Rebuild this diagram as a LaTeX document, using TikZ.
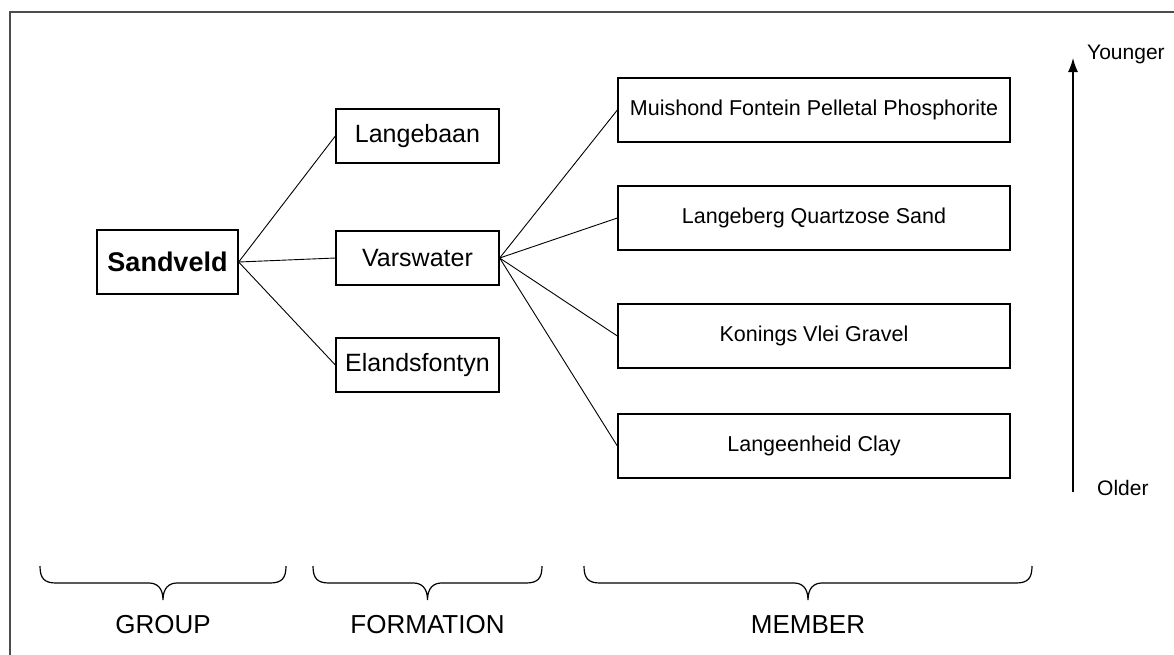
\documentclass[tikz,border=0pt]{standalone}
\usepackage{fontspec}
\setmainfont{Liberation Sans}
\usetikzlibrary{arrows.meta}

\begin{document}
\begin{tikzpicture}[x=1pt, y=-1pt, >={Latex[length=14pt,width=10pt]},
  groupbox/.style={draw, line width=1.3pt, minimum width=141pt, minimum height=64pt, inner sep=0pt, font=\fontsize{27}{32}\selectfont\bfseries},
  formbox/.style={draw, line width=1.3pt, minimum width=163pt, minimum height=54pt, inner sep=0pt, font=\fontsize{25}{30}\selectfont},
  memberbox/.style={draw, line width=1.3pt, minimum width=392pt, minimum height=64pt, inner sep=0pt, font=\fontsize{21.5}{26}\selectfont},
  link/.style={line width=0.9pt},
  rank/.style={font=\fontsize{26}{30}\selectfont},
  age/.style={anchor=west, inner sep=0pt, font=\fontsize{21}{25}\selectfont},
  rankbrace/.style={line width=1.2pt}]
  \useasboundingbox (0,0) rectangle (1174,654);
  %%% Frame
  \draw[black!70, line width=2pt] (10,12) rectangle (1200,680);
  %%% Boxes
  \node[groupbox] (sandveld) at (167.5,262) {Sandveld};
  \node[formbox] (langebaan) at (417.5,136) {Langebaan};
  \node[formbox] (varswater) at (417.5,258) {Varswater};
  \node[formbox] (elandsfontyn) at (417.5,365) {Elandsfontyn};
  \node[memberbox] (muishond) at (814,110) {Muishond Fontein Pelletal Phosphorite};
  \node[memberbox] (langeberg) at (814,218) {Langeberg Quartzose Sand};
  \node[memberbox] (konings) at (814,336) {Konings Vlei Gravel};
  \node[memberbox] (langeenheid) at (814,446) {Langeenheid Clay};
  %%% Links
  \foreach \f in {langebaan, varswater, elandsfontyn}
    \draw[link] (sandveld.east) -- (\f.west);
  \foreach \m in {muishond, langeberg, konings, langeenheid}
    \draw[link] (varswater.east) -- (\m.west);
  %%% Age arrow
  \coordinate (oldend) at (1073,492);
  \coordinate (youngtip) at (1073,58);
  \draw[->, line width=1.3pt] (oldend) -- (youngtip);
  \node[age] (younger) at (1087,54) {Younger};
  \node[age] (older) at (1097,488) {Older};
  %%% Braces and ranks
  \foreach \xa/\xb/\txt in {40/286/GROUP, 313/542/FORMATION, 584/1032/MEMBER} {
    \pgfmathsetmacro\xm{(\xa+\xb)/2}
    \draw[rankbrace] (\xa,566) .. controls (\xa,578) and (\xa+4,583) .. (\xa+16,583)
      -- (\xm-14,583) .. controls (\xm-6,583) and (\xm,588) .. (\xm,600)
      .. controls (\xm,588) and (\xm+6,583) .. (\xm+14,583)
      -- (\xb-16,583) .. controls (\xb-4,583) and (\xb,578) .. (\xb,566);
    \node[rank] (\txt) at (\xm,625) {\txt};
  }
\end{tikzpicture}
\end{document}
